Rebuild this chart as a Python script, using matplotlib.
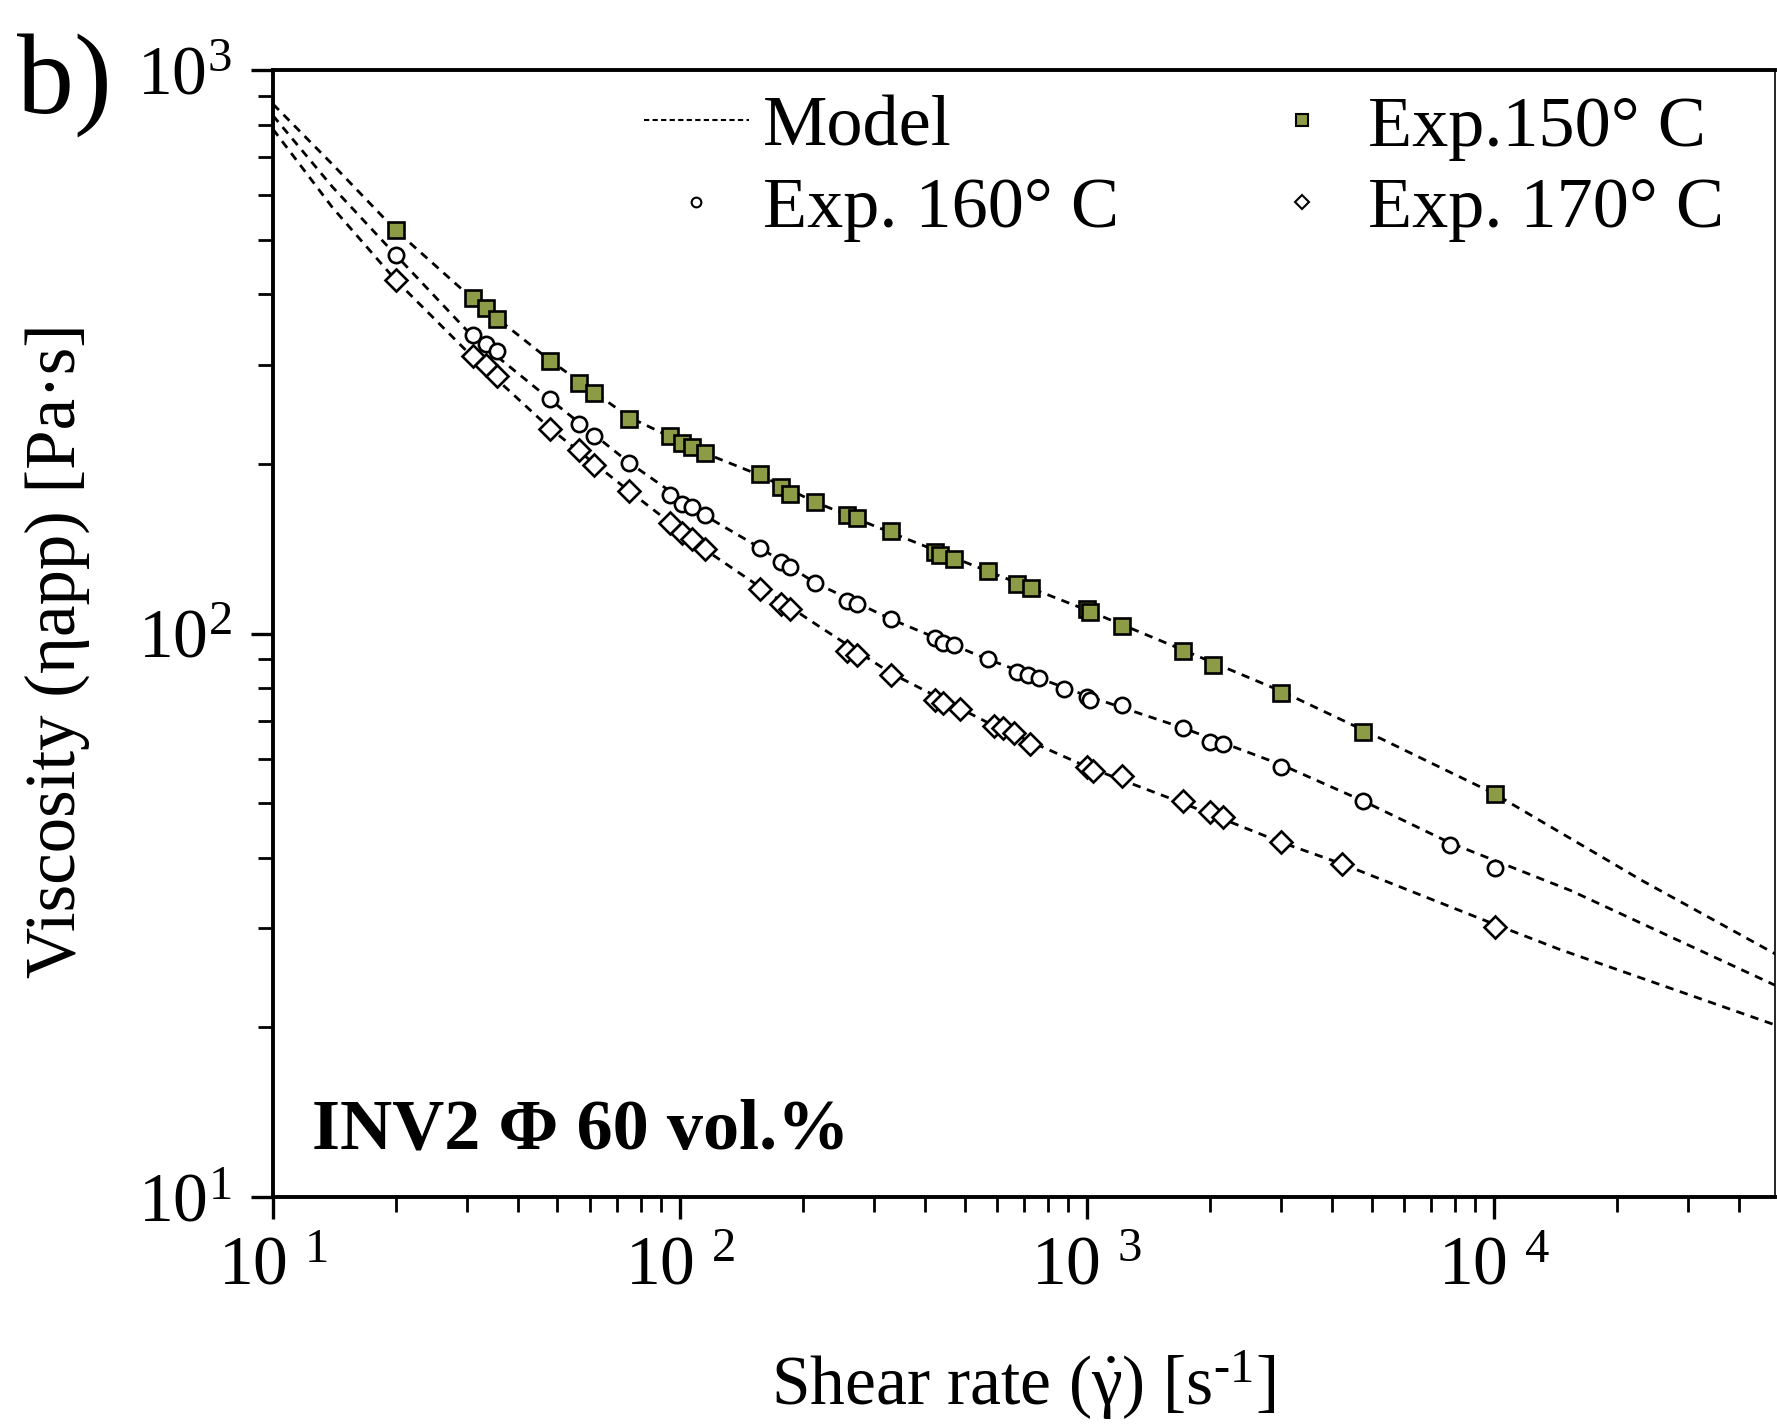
import matplotlib
matplotlib.use('Agg')
import matplotlib.pyplot as plt
from matplotlib.ticker import LogLocator, FixedLocator, FixedFormatter, NullFormatter
from matplotlib.lines import Line2D

plt.rcParams['font.family'] = ['Liberation Serif', 'DejaVu Serif']
plt.rcParams['mathtext.fontset'] = 'custom'
plt.rcParams['mathtext.rm'] = 'Liberation Serif'
plt.rcParams['mathtext.it'] = 'Liberation Serif:italic'
plt.rcParams['mathtext.bf'] = 'Liberation Serif:bold'

# ---------------- data ----------------
shear_150 = [20, 31, 33.4, 35.6, 48, 56.5, 61.4, 75, 94.4, 101, 107, 115, 157, 177, 186, 215,
             257, 272, 330, 424, 435, 472, 572, 672, 730, 1000, 1019, 1219, 1724, 2037, 2992,
             4752, 10070]
eta_150 = [520, 394, 378, 361, 305, 278, 267, 240, 224, 218, 214, 209, 192, 182, 177, 171,
           162, 160, 152, 139.5, 138, 135.6, 128.9, 122.5, 120.2, 110.6, 109.1, 103.2, 93.2,
           88.1, 78.5, 67.0, 51.9]

shear_160 = [20, 31, 33.4, 35.6, 48, 56.5, 61.4, 75, 94.4, 101, 107, 115, 157, 177, 186, 215,
             257, 272, 330, 424, 443, 472, 572, 672, 716, 764, 880, 1000, 1019, 1219, 1724,
             2000, 2159, 2992, 4752, 7787, 10070]
eta_160 = [470, 338, 327, 317, 261, 235, 224, 201, 176, 170, 168, 162, 142, 134, 131, 123,
           114, 113, 106, 98, 96.2, 95.3, 90.2, 85.3, 84.5, 83.4, 79.6, 77.0, 76.3, 74.6, 68.0,
           64.3, 63.7, 58.0, 50.5, 42.2, 38.4]

shear_170 = [20, 31, 33.4, 35.6, 48, 56.5, 61.4, 75, 94.4, 101, 107, 115, 157, 177, 186,
             257, 272, 330, 424, 443, 487, 591, 622, 663, 726, 1000, 1032, 1219, 1724, 2000,
             2159, 2992, 4234, 10070]
eta_170 = [424, 311, 300, 286, 231, 212, 199, 179, 157, 151, 147, 141, 120, 113, 110.6,
           93.2, 91.5, 84.5, 76.3, 75.3, 73.6, 68.6, 68.0, 66.7, 63.7, 58.0, 57.0, 55.9, 50.5,
           48.2, 47.3, 42.6, 39.0, 30.1]

# model curves
model_x_150 = [10, 14, 20, 31, 48, 75, 115, 157, 215, 330, 570, 1000, 1720, 3000, 4750,
               10000, 23000, 50000]
model_150 = [870, 680, 520, 392, 305, 242, 209, 191, 171, 151, 129, 110, 93.5, 79, 67.5,
             52, 36.5, 26.8]
model_x_160 = [10, 14, 20, 31, 48, 75, 115, 157, 215, 330, 570, 1000, 1720, 3000, 4750,
               7800, 15400, 50000]
model_160 = [830, 620, 470, 336, 260, 201, 162, 142, 123, 106, 90, 77.5, 68, 58.5, 50.5,
             42.5, 35, 23.6]
model_x_170 = [10, 14, 20, 31, 48, 75, 115, 157, 215, 330, 570, 1000, 1720, 3000, 4234,
               10000, 14500, 50000]
model_170 = [785, 570, 424, 309, 231, 179, 141, 121, 104, 85, 69.5, 58, 50, 42.6, 39,
             30.5, 27.5, 20.1]

x_ticks = [10, 100, 1000, 10000]
x_tick_labels = [r'$\mathregular{10}\ ^{\mathregular{1}}$', r'$\mathregular{10}\ ^{\mathregular{2}}$',
                 r'$\mathregular{10}\ ^{\mathregular{3}}$', r'$\mathregular{10}\ ^{\mathregular{4}}$']
y_ticks = [10, 100, 1000]
y_tick_labels = [r'$\mathregular{10^{1}}$', r'$\mathregular{10^{2}}$', r'$\mathregular{10^{3}}$']

labels = ['Model', 'Exp.150° C', 'Exp. 160° C', 'Exp. 170° C']

# ---------------- figure ----------------
W, H = 1777, 1427
fig = plt.figure(figsize=(W / 100, H / 100), dpi=100)
ax = fig.add_axes([273 / W, 230 / H, (1775 - 273) / W, (1197 - 70) / H])
ax.set_xscale('log')
ax.set_yscale('log')
ax.set_xlim(10, 4.9e4)
ax.set_ylim(10, 1000)

dash = (0, (3.0, 2.4))
lw_model = 2.0
for mx, my in [(model_x_150, model_150), (model_x_160, model_160), (model_x_170, model_170)]:
    ax.plot(mx, my, color='black', lw=lw_model, linestyle=dash, zorder=2)

green = '#8c9b46'
ax.plot(shear_150, eta_150, linestyle='none', marker='s', ms=11.5, mfc=green, mec='black',
        mew=1.9, zorder=3)
ax.plot(shear_160, eta_160, linestyle='none', marker='o', ms=11, mfc='white', mec='black',
        mew=1.9, zorder=3)
ax.plot(shear_170, eta_170, linestyle='none', marker='D', ms=11.5, mfc='white', mec='black',
        mew=1.9, zorder=3)

# spines & ticks
for s in ['left', 'bottom', 'top']:
    ax.spines[s].set_linewidth(2.8)
ax.spines['right'].set_linewidth(1.2)
ax.tick_params(which='major', direction='out', length=16, width=2.4, top=False, right=False,
               labelsize=50)
ax.tick_params(which='minor', direction='out', length=11, width=2.0, top=False, right=False)
ax.tick_params(axis='y', which='major', pad=14)
ax.tick_params(axis='x', which='major', pad=12)
ax.xaxis.set_major_locator(FixedLocator(x_ticks))
ax.xaxis.set_major_formatter(FixedFormatter(x_tick_labels))
ax.yaxis.set_major_locator(FixedLocator(y_ticks))
ax.yaxis.set_major_formatter(FixedFormatter(y_tick_labels))
ax.xaxis.set_minor_locator(LogLocator(base=10, subs=range(2, 10), numticks=20))
ax.yaxis.set_minor_locator(LogLocator(base=10, subs=range(2, 10), numticks=20))
ax.xaxis.set_minor_formatter(NullFormatter())
ax.yaxis.set_minor_formatter(NullFormatter())

# axis labels
fig.text(1023 / W, 1 - 1385 / H, r'Shear rate ($\dot{\mathregular{\gamma}}$) [s$^{\text{-1}}$]',
         fontsize=50, ha='center', va='center')
fig.text(57 / W, 1 - 651 / H, 'Viscosity (ηapp) [Pa·s]', fontsize=51, rotation=90,
         ha='center', va='center')

# panel label and annotation
fig.text(17 / W, 1 - 113 / H, 'b)', fontsize=82, ha='left', va='baseline')
fig.text(312 / W, 1 - 1148 / H, 'INV2 Φ 60 vol.%', fontsize=52, fontweight='bold',
         ha='left', va='baseline')

# legend
h_model = Line2D([], [], color='black', lw=1.5, linestyle=(0, (2.5, 1.6)))
h150 = Line2D([], [], linestyle='none', marker='s', ms=8, mfc=green, mec='black', mew=1.5)
h160 = Line2D([], [], linestyle='none', marker='o', ms=7, mfc='white', mec='black', mew=1.5)
h170 = Line2D([], [], linestyle='none', marker='D', ms=7.5, mfc='white', mec='black', mew=1.5)
leg = ax.legend([h_model, h160, h150, h170], [labels[0], labels[2], labels[1], labels[3]],
                ncol=2, frameon=False, fontsize=52, loc='upper left',
                bbox_to_anchor=(644 / W, 1 - 95 / H), bbox_transform=fig.transFigure,
                borderpad=0, borderaxespad=0, handlelength=1.45, handletextpad=0.2,
                columnspacing=1.8, labelspacing=0.22)

fig.savefig('out.png', dpi=100)
